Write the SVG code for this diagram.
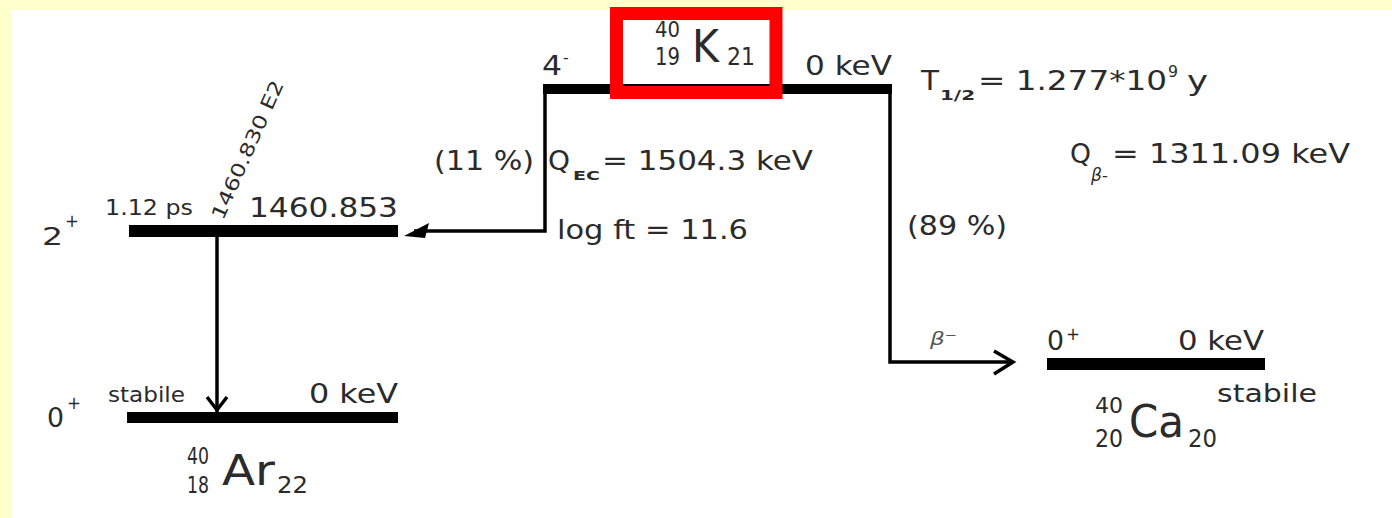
<svg xmlns="http://www.w3.org/2000/svg" width="1392" height="518" viewBox="0 0 1392 518">
<style>
text{font-family:"DejaVu Sans","Liberation Sans",sans-serif;fill:#2b2b2b}
.lvl{fill:#000}
.con{fill:none;stroke:#000;stroke-width:3.5;stroke-linejoin:miter}
.b{font-weight:bold}
.i{font-style:italic}
</style>
<rect width="1392" height="518" fill="#ffffcc"/>
<rect x="12" y="10" width="1380" height="508" fill="#ffffff"/>

<g id="connectors">
  <g id="ec-decay">
    <path class="con" d="M545 89 V231 H414"/>
    <path d="M404 236 L429 223 L425 238 Z" fill="#000"/>
  </g>
  <g id="beta-decay">
    <path class="con" d="M890 89 V362 H1011"/>
    <path class="con" d="M994 351 L1013 362 L994 374"/>
    <text x="930" y="345" font-size="18" class="i" style="fill:#555" textLength="27" lengthAdjust="spacingAndGlyphs">β⁻</text>
  </g>
  <g id="gamma">
    <path class="con" d="M217 237 V412"/>
    <path class="con" d="M207 397 L217 410 L227 397"/>
    <text transform="translate(223,221) rotate(-66)" font-size="19" textLength="150" lengthAdjust="spacingAndGlyphs">1460.830 E2</text>
  </g>
</g>

<g id="k40">
  <rect class="lvl" x="543" y="84" width="349" height="10"/>
  <text x="542" y="75" font-size="27" textLength="20" lengthAdjust="spacingAndGlyphs">4</text>
  <text x="563" y="63" font-size="16">-</text>
  <text x="805" y="75" font-size="27" textLength="87" lengthAdjust="spacingAndGlyphs">0 keV</text>
  <rect x="616.5" y="13.5" width="159.5" height="79" fill="none" stroke="#ff0000" stroke-width="13"/>
  <text x="655" y="37" font-size="22" textLength="25" lengthAdjust="spacingAndGlyphs">40</text>
  <text x="655" y="65" font-size="24" textLength="25" lengthAdjust="spacingAndGlyphs">19</text>
  <text x="692" y="62" font-size="44" textLength="27" lengthAdjust="spacingAndGlyphs">K</text>
  <text x="727" y="65" font-size="24" textLength="28" lengthAdjust="spacingAndGlyphs">21</text>
  <text x="434" y="170" font-size="26" textLength="100" lengthAdjust="spacingAndGlyphs">(11 %)</text>
  <text x="548" y="170" font-size="27" textLength="22" lengthAdjust="spacingAndGlyphs">Q</text>
  <text x="573" y="180" font-size="13" class="b" textLength="27" lengthAdjust="spacingAndGlyphs">EC</text>
  <text x="602" y="170" font-size="27" textLength="211" lengthAdjust="spacingAndGlyphs">= 1504.3 keV</text>
  <text x="557" y="239" font-size="27" textLength="191" lengthAdjust="spacingAndGlyphs">log ft = 11.6</text>
  <text x="921" y="90" font-size="27" textLength="18" lengthAdjust="spacingAndGlyphs">T</text>
  <text x="940" y="100" font-size="14" class="b" textLength="35" lengthAdjust="spacingAndGlyphs">1/2</text>
  <text x="978" y="90" font-size="27" textLength="189" lengthAdjust="spacingAndGlyphs">= 1.277*10</text>
  <text x="1168" y="77" font-size="15" textLength="10" lengthAdjust="spacingAndGlyphs">9</text>
  <text x="1187" y="90" font-size="27" textLength="21" lengthAdjust="spacingAndGlyphs">y</text>
  <text x="1070" y="163" font-size="27" textLength="21" lengthAdjust="spacingAndGlyphs">Q</text>
  <text x="1091" y="181" font-size="17" class="i" textLength="17" lengthAdjust="spacingAndGlyphs">β-</text>
  <text x="1112" y="163" font-size="27" textLength="238" lengthAdjust="spacingAndGlyphs">= 1311.09 keV</text>
  <text x="907" y="235" font-size="26" textLength="100" lengthAdjust="spacingAndGlyphs">(89 %)</text>
</g>

<g id="ar40-2plus">
  <rect class="lvl" x="129" y="225" width="269" height="12"/>
  <text x="42" y="245" font-size="25" textLength="21" lengthAdjust="spacingAndGlyphs">2</text>
  <text x="65" y="227" font-size="18" textLength="14" lengthAdjust="spacingAndGlyphs">+</text>
  <text x="105" y="215" font-size="21" textLength="88" lengthAdjust="spacingAndGlyphs">1.12 ps</text>
  <text x="249" y="217" font-size="27" textLength="149" lengthAdjust="spacingAndGlyphs">1460.853</text>
</g>

<g id="ar40-ground">
  <rect class="lvl" x="127" y="412" width="271" height="11"/>
  <text x="47" y="427" font-size="27" textLength="17" lengthAdjust="spacingAndGlyphs">0</text>
  <text x="67" y="409" font-size="18" textLength="14" lengthAdjust="spacingAndGlyphs">+</text>
  <text x="108" y="402" font-size="21" textLength="77" lengthAdjust="spacingAndGlyphs">stabile</text>
  <text x="309" y="403" font-size="27" textLength="89" lengthAdjust="spacingAndGlyphs">0 keV</text>
  <text x="187" y="464" font-size="23" textLength="22" lengthAdjust="spacingAndGlyphs">40</text>
  <text x="187" y="493" font-size="23" textLength="22" lengthAdjust="spacingAndGlyphs">18</text>
  <text x="222" y="485" font-size="42" textLength="53" lengthAdjust="spacingAndGlyphs">Ar</text>
  <text x="277" y="493" font-size="23" textLength="31" lengthAdjust="spacingAndGlyphs">22</text>
</g>

<g id="ca40-ground">
  <rect class="lvl" x="1047" y="358" width="218" height="12"/>
  <text x="1047" y="350" font-size="27" textLength="17" lengthAdjust="spacingAndGlyphs">0</text>
  <text x="1066" y="340" font-size="18" textLength="14" lengthAdjust="spacingAndGlyphs">+</text>
  <text x="1178" y="350" font-size="27" textLength="86" lengthAdjust="spacingAndGlyphs">0 keV</text>
  <text x="1217" y="402" font-size="24" textLength="100" lengthAdjust="spacingAndGlyphs">stabile</text>
  <text x="1095" y="413" font-size="22" textLength="28" lengthAdjust="spacingAndGlyphs">40</text>
  <text x="1095" y="447" font-size="24" textLength="28" lengthAdjust="spacingAndGlyphs">20</text>
  <text x="1129" y="437" font-size="44" textLength="55" lengthAdjust="spacingAndGlyphs">Ca</text>
  <text x="1188" y="447" font-size="24" textLength="29" lengthAdjust="spacingAndGlyphs">20</text>
</g>
</svg>
